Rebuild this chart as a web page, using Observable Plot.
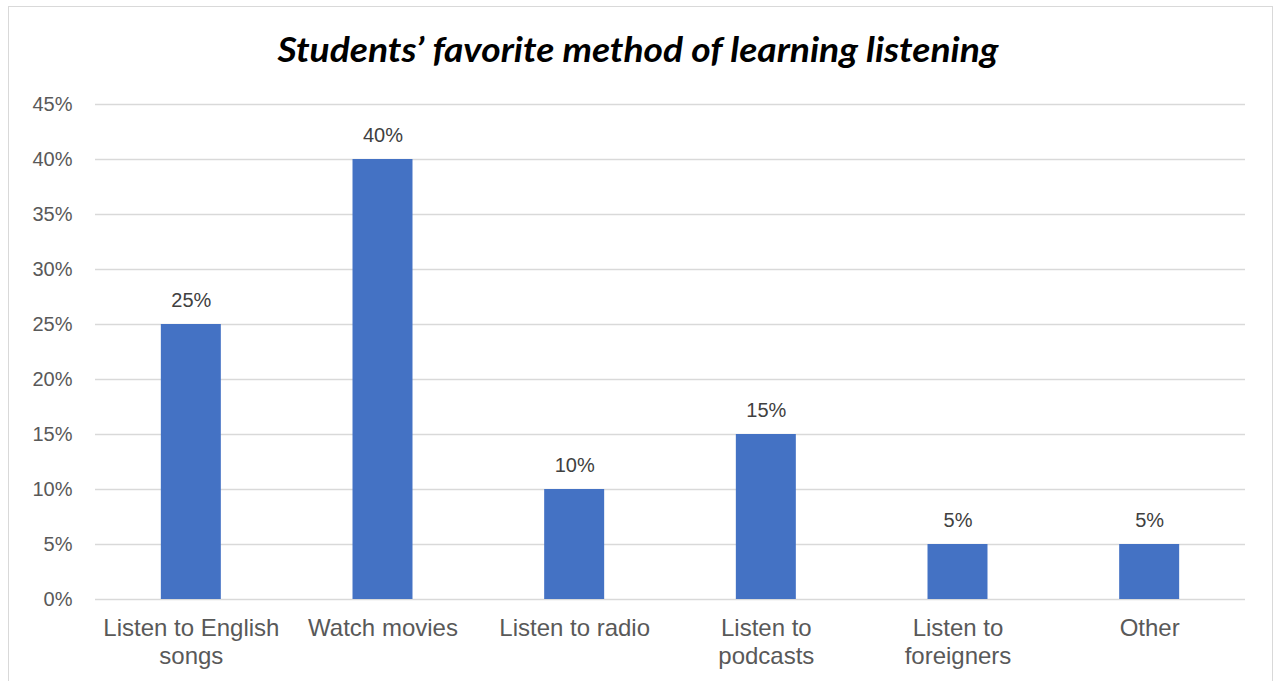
<!DOCTYPE html>
<html>
<head>
<meta charset="utf-8">
<script src="https://cdn.jsdelivr.net/npm/d3@7"></script>
<script src="https://cdn.jsdelivr.net/npm/@observablehq/plot@0.6"></script>
<style>
  html, body { margin: 0; padding: 0; background: #fff; }
  #wrap { position: relative; width: 1277px; height: 681px; overflow: hidden; background: #fff; }
  #frame { position: absolute; left: 8px; top: 6px; width: 1265px; height: 700px; border: 1.5px solid #d9d9d9; box-sizing: border-box; }
  #title { position: absolute; left: 0; top: 27px; width: 1277px; text-align: center; font-family: Lato, "Open Sans", sans-serif; font-weight: 700; font-style: italic; font-size: 35px; color: #000; line-height: 1.2; white-space: nowrap; }
  #title span { display: inline-block; transform-origin: center; }
  #chart { position: absolute; left: 0; top: 0; }
</style>
</head>
<body>
<div id="wrap">
  <div id="frame"></div>
  <div id="chart"></div>
  <div id="title"><span id="tspan">Students’ favorite method of learning listening</span></div>
</div>
<script>
const categories = ["Listen to English songs", "Watch movies", "Listen to radio", "Listen to podcasts", "Listen to foreigners", "Other"];
const tickLabels = ["Listen to English\nsongs", "Watch movies", "Listen to radio", "Listen to\npodcasts", "Listen to\nforeigners", "Other"];
const values = [25, 40, 10, 15, 5, 5];
const yTicks = [0, 5, 10, 15, 20, 25, 30, 35, 40, 45];

const data = categories.map((c, i) => ({category: c, value: values[i]}));
const labelOf = new Map(categories.map((c, i) => [c, tickLabels[i]]));

const chart = Plot.plot({
  width: 1277,
  height: 681,
  marginTop: 104,
  marginBottom: 82,
  marginLeft: 95,
  marginRight: 32,
  style: {fontFamily: "'Liberation Sans', Arial, sans-serif", fontSize: "20px", background: "transparent"},
  x: {domain: categories, paddingInner: 0.687, paddingOuter: 0.3435, round: false, label: null},
  y: {domain: [0, 45], label: null},
  marks: [
    Plot.ruleY(yTicks, {stroke: "#d9d9d9", strokeWidth: 1.5}),
    Plot.barY(data, {x: "category", y: "value", fill: "#4472c4"}),
    Plot.text(data, {x: "category", y: "value", text: d => d.value + "%", dy: -24, fill: "#404040", fontSize: 20}),
    Plot.axisY({ticks: yTicks, tickFormat: d => d + "%", tickSize: 0, tickPadding: 23, fill: "#595959", fontSize: 20}),
    Plot.axisX({tickFormat: d => labelOf.get(d), tickSize: 0, tickPadding: 17, fill: "#595959", fontSize: 24, lineHeight: 1.15})
  ]
});
document.getElementById("chart").appendChild(chart);

const t = document.getElementById("tspan");
const w = t.getBoundingClientRect().width;
t.style.transform = `scaleX(${721 / w})`;
</script>
</body>
</html>
